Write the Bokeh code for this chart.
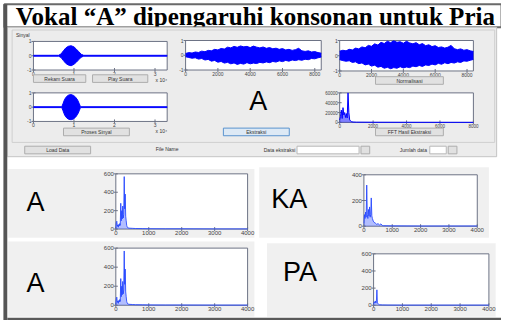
import numpy as np
from bokeh.plotting import figure
from bokeh.models import Range1d
from bokeh.embed import file_html
from bokeh.resources import INLINE
from bokeh.core.properties import value

TITLE = "Vokal \u201cA\u201d dipengaruhi konsonan untuk Pria"

# ---------------- GUI waveforms (x in units of 10^4 samples) ----------------
rec_x = [0.0, 0.62, 0.68, 0.74, 0.80, 0.86, 0.93, 1.00, 1.06, 1.12, 1.18, 1.24, 3.3]
rec_up = [0.03, 0.03, 0.12, 0.35, 0.55, 0.66, 0.70, 0.62, 0.46, 0.28, 0.10, 0.03, 0.03]
rec_lo = [-0.03, -0.03, -0.12, -0.34, -0.54, -0.65, -0.70, -0.60, -0.45, -0.27, -0.10, -0.03, -0.03]

proc_x = [0.0, 0.70, 0.73, 0.77, 0.82, 0.87, 0.93, 0.99, 1.04, 1.09, 1.13, 1.16, 3.3]
proc_up = [0.03, 0.03, 0.25, 0.55, 0.75, 0.85, 0.88, 0.82, 0.70, 0.50, 0.25, 0.03, 0.03]
proc_lo = [-0.03, -0.03, -0.25, -0.55, -0.75, -0.85, -0.88, -0.82, -0.70, -0.50, -0.25, -0.03, -0.03]
sig_xticks = [0, 1, 2, 3]
sig_xlabels = ["0", "1", "2", "3"]
sig_yticks = [-1, 0, 1]
sig_ylabels = ["-1", "0", "1"]

# extracted vowel segment (samples)
seg_x = [0, 200, 400, 600, 800, 1000, 1200, 1400, 1600, 1800, 2000, 2200, 2400, 2600, 2800,
         3000, 3200, 3400, 3600, 3800, 4000, 4200, 4400, 4600, 4800, 5000, 5200, 5400, 5600,
         5800, 6000, 6200, 6400, 6600, 6800, 7000, 7200, 7400, 7600, 7800, 8000, 8200, 8400]
seg_up = [0.12, 0.18, 0.15, 0.22, 0.19, 0.28, 0.24, 0.33, 0.30, 0.40, 0.36, 0.46, 0.42, 0.55, 0.50,
          0.60, 0.54, 0.63, 0.57, 0.60, 0.52, 0.62, 0.55, 0.50, 0.56, 0.47, 0.52, 0.44, 0.48,
          0.40, 0.45, 0.36, 0.40, 0.33, 0.38, 0.47, 0.30, 0.26, 0.30, 0.22, 0.25, 0.18, 0.14]
seg_lo = [-0.10, -0.15, -0.20, -0.17, -0.26, -0.22, -0.32, -0.28, -0.40, -0.35, -0.47, -0.42, -0.53, -0.48, -0.58,
          -0.52, -0.62, -0.55, -0.60, -0.50, -0.58, -0.53, -0.56, -0.48, -0.52, -0.45, -0.50, -0.42, -0.46,
          -0.38, -0.43, -0.35, -0.40, -0.32, -0.36, -0.30, -0.34, -0.27, -0.30, -0.22, -0.24, -0.17, -0.12]
norm_up = [0.30, 0.36, 0.32, 0.42, 0.38, 0.50, 0.45, 0.58, 0.52, 0.68, 0.62, 0.78, 0.70, 0.88, 0.80,
           0.95, 0.86, 0.98, 0.88, 0.92, 0.82, 0.95, 0.84, 0.78, 0.86, 0.72, 0.80, 0.66, 0.72,
           0.60, 0.66, 0.54, 0.58, 0.50, 0.56, 0.68, 0.46, 0.40, 0.45, 0.36, 0.40, 0.32, 0.28]
norm_lo = [-0.26, -0.32, -0.36, -0.33, -0.44, -0.40, -0.52, -0.47, -0.60, -0.55, -0.68, -0.62, -0.75, -0.70, -0.82,
           -0.76, -0.85, -0.78, -0.82, -0.72, -0.80, -0.74, -0.78, -0.68, -0.72, -0.64, -0.70, -0.60, -0.64,
           -0.55, -0.60, -0.50, -0.56, -0.46, -0.52, -0.44, -0.48, -0.40, -0.44, -0.34, -0.36, -0.30, -0.24]
seg_xticks = [0, 2000, 4000, 6000, 8000]
seg_xlabels = ["0", "2000", "4000", "6000", "8000"]

# FFT of extracted segment
fft_f = [0, 50, 100, 150, 200, 250, 300, 350, 400, 450, 500, 550, 600, 700, 800, 1000, 2000, 4000, 6000, 8000]
fft_m = [5000, 12000, 25000, 8000, 30000, 15000, 20000, 10000, 18000, 9000, 60000, 20000, 5000, 1500, 800,
         500, 300, 200, 150, 100]
fft_yticks = [0, 20000, 40000, 60000]
fft_ylabels = ["0", "20000", "40000", "60000"]

# ---------------- spectra of the four syllables (Hz, magnitude) ----------------
spec_A_f = [0, 15, 30, 45, 60, 75, 90, 105, 120, 135, 150, 165, 180, 195, 210, 225, 240, 255, 270, 285,
            300, 315, 330, 345, 360, 400, 500, 600, 800, 1000, 1500, 2000, 3000, 4000]
spec_A_m = [10, 70, 85, 30, 45, 20, 50, 35, 60, 40, 280, 90, 200, 110, 250, 120, 160, 570, 220, 380,
            140, 90, 40, 25, 15, 10, 8, 6, 5, 4, 3, 3, 2, 2]
spec_KA_f = [0, 20, 40, 60, 80, 100, 120, 140, 160, 180, 200, 220, 240, 260, 280, 300, 330, 360, 400,
             450, 500, 550, 600, 650, 700, 1000, 2000, 3000, 4000]
spec_KA_m = [20, 90, 60, 110, 70, 320, 90, 60, 130, 80, 150, 70, 90, 220, 80, 60, 40, 30, 25,
             15, 20, 10, 18, 6, 4, 3, 2, 2, 2]
spec_PA_f = [0, 20, 40, 60, 80, 100, 115, 130, 150, 170, 200, 300, 500, 1000, 2000, 3000, 4000]
spec_PA_m = [10, 40, 30, 50, 25, 60, 180, 35, 20, 12, 6, 4, 3, 2, 2, 2, 2]
spec_xticks = [0, 1000, 2000, 3000, 4000]
spec_xlabels = ["0", "1000", "2000", "3000", "4000"]
spec_yticks_600 = [0, 200, 400, 600]
spec_ylabels_600 = ["0", "200", "400", "600"]
spec_yticks_400 = [0, 200, 400]
spec_ylabels_400 = ["0", "200", "400"]

SANS = value("Liberation Sans")

p = figure(width=501, height=320, x_range=Range1d(0, 517), y_range=Range1d(336, 0),
           output_backend="svg", toolbar_location=None, min_border=0,
           x_axis_location=None, y_axis_location=None)
p.grid.visible = False
p.outline_line_color = None
p.background_fill_color = "white"
p.border_fill_color = "white"


def box(x0, x1, y0, y1, fill, line=None, lw=1):
    p.quad(left=x0, right=x1, top=y0, bottom=y1, fill_color=fill, line_color=line, line_width=lw)


def label(x, y, s, size, color="#333333", align="center", font=SANS, style="normal"):
    p.text(x=[x], y=[y], text=[s], text_font=font, text_font_size=size, text_font_style=style,
           text_align=align, text_baseline="middle", text_color=color)


def button(x0, x1, y0, y1, s, fill="#e1e1e1", line="#adadad"):
    box(x0, x1, y0, y1, fill, line)
    label((x0 + x1) / 2, (y0 + y1) / 2, s, "5px")


def axes(bx, xr, yr, xt, xl, yt, yl, fs, frame="#6d7385"):
    x0, x1, y0, y1 = bx
    box(x0, x1, y0, y1, "white", frame)
    s = p.subplot(x_source=Range1d(*xr), y_source=Range1d(*yr),
                  x_target=Range1d(x0, x1), y_target=Range1d(y1, y0))
    s.text(x=xt, y=[yr[0]] * len(xt), text=xl, y_offset=2, text_align="center",
           text_baseline="top", text_font=SANS, text_font_size=fs, text_color="#444444")
    s.text(x=[xr[0]] * len(yt), y=yt, text=yl, x_offset=-2, text_align="right",
           text_baseline="middle", text_font=SANS, text_font_size=fs, text_color="#444444")
    s.scatter(x=xt, y=[yr[0]] * len(xt), marker="dash", angle=np.pi / 2, size=4, line_color=frame)
    s.scatter(x=[xr[0]] * len(yt), y=yt, marker="dash", size=4, line_color=frame)
    return s


# ---------------- frame & title ----------------
box(4, 517, 4, 28, "white", "#6a6a6a", 2)
label(263, 16.5, TITLE, "25px", color="black", font=value("Liberation Serif"), style="bold")

# ---------------- GUI screenshot ----------------
box(7, 512, 28, 164, "#ececec", "#c4c4c4")
box(12, 510, 31, 149, "#ececec", "#cfcfcf")
box(3, 7, 4, 336, "#555555")
box(7, 517, 333, 336, "#5a5a5a")

label(23, 36, "Sinyal", "5px", align="center")

BLUE = "#0000ff"
s1 = axes((34, 172, 43, 73), (0, 3.3), (-1, 1), sig_xticks, sig_xlabels, sig_yticks, sig_ylabels, "5px")
s1.varea(x=rec_x, y1=rec_lo, y2=rec_up, fill_color=BLUE)
s1.line(x=rec_x, y=rec_up, line_color=BLUE, line_width=1)
s1.line(x=rec_x, y=rec_lo, line_color=BLUE, line_width=1)
label(166, 83, "x 10\u2074", "5px")
button(34, 88, 78, 86, "Rekam Suara")
button(95, 152, 78, 86, "Play Suara")

s4 = axes((34, 172, 97, 127), (0, 3.3), (-1, 1), sig_xticks, sig_xlabels, sig_yticks, sig_ylabels, "5px")
s4.varea(x=proc_x, y1=proc_lo, y2=proc_up, fill_color=BLUE)
s4.line(x=proc_x, y=proc_up, line_color=BLUE, line_width=1)
s4.line(x=proc_x, y=proc_lo, line_color=BLUE, line_width=1)
label(166, 137, "x 10\u2074", "5px")
button(65, 133, 134, 142, "Proses Sinyal")

s2 = axes((191, 331, 42, 73), (0, 8400), (-1, 1), seg_xticks, seg_xlabels, sig_yticks, sig_ylabels, "5px")
s2.varea(x=seg_x, y1=seg_lo, y2=seg_up, fill_color=BLUE)
s2.line(x=seg_x, y=seg_up, line_color=BLUE, line_width=1)
s2.line(x=seg_x, y=seg_lo, line_color=BLUE, line_width=1)

label(266, 105, "A", "27px", color="black")
button(230, 298, 134, 142, "Ekstraksi", fill="#dde9f5", line="#5a93cf")

s3 = axes((350, 488, 42, 74), (0, 8400), (-1, 1), seg_xticks, seg_xlabels, sig_yticks, sig_ylabels, "5px")
s3.varea(x=seg_x, y1=norm_lo, y2=norm_up, fill_color=BLUE)
s3.line(x=seg_x, y=norm_up, line_color=BLUE, line_width=1)
s3.line(x=seg_x, y=norm_lo, line_color=BLUE, line_width=1)
button(387, 457, 80, 88, "Normalisasi")

s5 = axes((350, 488, 97, 128), (0, 8000), (0, 60000), seg_xticks, seg_xlabels, fft_yticks, fft_ylabels, "4.5px")
s5.varea(x=fft_f, y1=0, y2=fft_m, fill_color=BLUE, fill_alpha=0.5)
s5.line(x=fft_f, y=fft_m, line_color=BLUE, line_width=1)
button(387, 457, 134, 142, "FFT Hasil Ekstraksi")

# status row
button(25, 93, 153, 161, "Load Data")
label(172, 156, "File Name", "5px")
label(288, 157, "Data ekstraksi", "5px")
box(306, 370, 153, 161, "white", "#b8b8b8")
button(372, 381, 153, 161, "")
label(426, 157, "Jumlah data", "5px")
box(443, 460, 153, 161, "white", "#b8b8b8")
button(462, 471, 153, 161, "")

# ---------------- lower result panels ----------------
PANEL = "#f0f0f0"
box(8, 262, 177, 249, PANEL)
box(267, 504, 175, 249, PANEL)
box(8, 262, 253, 332, PANEL)
box(275, 511, 255, 332, PANEL)

SPEC = "#2244ff"


def spectrum(s, f, m):
    s.varea(x=f, y1=0, y2=m, fill_color=SPEC, fill_alpha=0.35)
    s.line(x=f, y=m, line_color=SPEC, line_alpha=0.85, line_width=1)


label(36, 212, "A", "27px", color="black")
sa = axes((119, 255, 182, 240), (0, 4000), (0, 600), spec_xticks, spec_xlabels,
          spec_yticks_600, spec_ylabels_600, "6px")
spectrum(sa, spec_A_f, spec_A_m)

label(298, 208, "KA", "27px", color="black")
ska = axes((375, 492, 183, 237), (0, 4000), (0, 400), spec_xticks, spec_xlabels,
           spec_yticks_400, spec_ylabels_400, "6px")
spectrum(ska, spec_KA_f, spec_KA_m)

label(36, 297, "A", "27px", color="black")
sa2 = axes((119, 255, 260, 320), (0, 4000), (0, 600), spec_xticks, spec_xlabels,
           spec_yticks_600, spec_ylabels_600, "6px")
spectrum(sa2, spec_A_f, spec_A_m)

label(309, 285, "PA", "27px", color="black")
spa = axes((385, 504, 266, 320), (0, 4000), (0, 600), spec_xticks, spec_xlabels,
           spec_yticks_600, spec_ylabels_600, "6px")
spectrum(spa, spec_PA_f, spec_PA_m)

open("out.html", "w").write(file_html(p, INLINE))
